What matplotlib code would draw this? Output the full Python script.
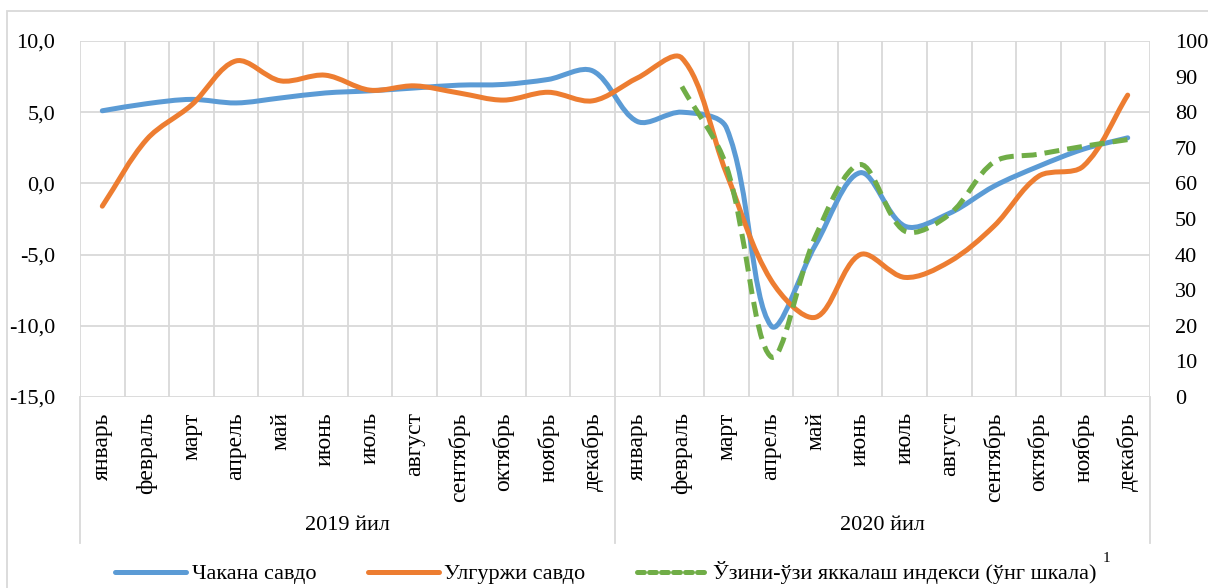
import matplotlib
matplotlib.use('Agg')
import matplotlib.pyplot as plt
import matplotlib.ticker as mtick
from matplotlib.path import Path
from matplotlib.patches import PathPatch, Rectangle
from matplotlib.lines import Line2D
import matplotlib.transforms as mtrans

plt.rcParams['font.family'] = ['Liberation Serif', 'Tinos', 'DejaVu Serif']

# Data
months = ['январь', 'февраль', 'март', 'апрель', 'май', 'июнь', 'июль',
          'август', 'сентябрь', 'октябрь', 'ноябрь', 'декабрь']
years = ['2019 йил', '2020 йил']
retail = [5.1, 5.6, 5.9, 5.65, 6.0, 6.35, 6.5, 6.7, 6.9, 6.95, 7.3, 7.9,
          4.35, 5.0, 3.9, -10.0, -4.3, 0.75, -3.0, -2.1, -0.2, 1.2, 2.4, 3.2]
wholesale = [-1.6, 3.1, 5.5, 8.6, 7.2, 7.6, 6.55, 6.85, 6.35, 5.85, 6.4, 5.8,
             7.4, 8.8, 0.7, -6.8, -9.4, -5.0, -6.6, -5.5, -3.0, 0.5, 1.2, 6.2]
# self-isolation index starts in February 2020 (right scale)
isolation = [87.2, 64.8, 11.3, 45.2, 65.3, 46.6, 51.3, 66.0, 68.2, 70.4, 72.3]
isolation_start = 13

labels = months * 2
n = len(labels)

BLUE = '#5B9BD5'
ORANGE = '#ED7D31'
GREEN = '#70AD47'
GRID = '#D9D9D9'
FS = 16
FS_MONTH = 17

W, H = 1208, 588
L, R, T, B = 80, 1150, 41, 397


def smooth_path(xs, ys, sx, sy):
    # smoothed line like Excel: cubic Bezier through the points,
    # tangents scaled by segment lengths measured in pixels
    m = len(xs)
    px = [x * sx for x in xs]
    py = [y * sy for y in ys]

    def dist(i, j):
        return ((px[j] - px[i]) ** 2 + (py[j] - py[i]) ** 2) ** 0.5

    tang = []
    for i in range(m):
        a, b = max(i - 1, 0), min(i + 1, m - 1)
        d = dist(a, i) + dist(i, b)
        tang.append(((px[b] - px[a]) / d, (py[b] - py[a]) / d))
    verts = [(xs[0], ys[0])]
    codes = [Path.MOVETO]
    for i in range(m - 1):
        d = dist(i, i + 1)
        c1 = ((px[i] + tang[i][0] * d / 3) / sx, (py[i] + tang[i][1] * d / 3) / sy)
        c2 = ((px[i + 1] - tang[i + 1][0] * d / 3) / sx,
              (py[i + 1] - tang[i + 1][1] * d / 3) / sy)
        verts += [c1, c2, (xs[i + 1], ys[i + 1])]
        codes += [Path.CURVE4] * 3
    return Path(verts, codes)


fig = plt.figure(figsize=(12.08, 5.88), dpi=100)
ax = fig.add_axes([L / W, 1 - B / H, (R - L) / W, (B - T) / H])
ax2 = ax.twinx()

ax.set_xlim(-0.5, n - 0.5)
ax.set_ylim(-15, 10)
ax2.set_ylim(0, 100)

ax.set_yticks(range(-15, 11, 5))
ax.yaxis.set_major_formatter(mtick.FuncFormatter(lambda v, p: f'{v:.1f}'.replace('.', ',')))
ax.set_xticks(range(n))
ax.set_xticklabels(labels)
ax.set_xticks([k - 0.5 for k in range(n + 1)], minor=True)
ax.grid(True, which='minor', axis='x', color=GRID, lw=1.3)
ax.grid(True, which='major', axis='y', color=GRID, lw=1.3)
ax.set_axisbelow(True)
ax.tick_params(axis='x', which='both', length=0)
ax.tick_params(axis='x', which='major', pad=11, labelsize=FS_MONTH, labelrotation=90)
ax.tick_params(axis='y', length=0, pad=18, labelsize=FS)
ax2.set_yticks(range(0, 101, 10))
ax2.tick_params(axis='y', length=0, pad=18, labelsize=FS)
for lbl in ax.get_xticklabels():
    lbl.set_verticalalignment('top')
for a in (ax, ax2):
    for s in a.spines.values():
        s.set_visible(False)

sx = (R - L) / n
xs = list(range(n))
ax.add_patch(PathPatch(smooth_path(xs, retail, sx, (B - T) / 25), fill=False,
                       ec=BLUE, lw=3.6, capstyle='round', joinstyle='round', zorder=3))
ax.add_patch(PathPatch(smooth_path(xs, wholesale, sx, (B - T) / 25), fill=False,
                       ec=ORANGE, lw=3.6, capstyle='round', joinstyle='round', zorder=4))
xi = list(range(isolation_start, isolation_start + len(isolation)))
ax2.add_patch(PathPatch(smooth_path(xi, isolation, sx, (B - T) / 100), fill=False,
                        ec=GREEN, lw=3.6, ls=(0, (3.0, 1.6)), capstyle='butt', zorder=5))

# year group labels and separators below the plot
trans = mtrans.blended_transform_factory(ax.transData, ax.transAxes)
sep_bottom = -(543 - B) / (B - T)
for xb in (-0.5, 11.5, n - 0.5):
    ax.add_line(Line2D([xb, xb], [0, sep_bottom], transform=trans, color=GRID,
                       lw=1.3, clip_on=False))
for k, yr in enumerate(years):
    ax.text(5.5 + 12 * k, -(525 - B) / (B - T), yr, transform=trans,
            ha='center', va='center', fontsize=FS)

# outer chart border
fig.add_artist(Rectangle((7 / W, -0.1), 1.2, 1 - 11 / H + 0.1, transform=fig.transFigure,
                         fill=False, ec=GRID, lw=1.3))

handles = [Line2D([], [], color=BLUE, lw=3.6, solid_capstyle='round'),
           Line2D([], [], color=ORANGE, lw=3.6, solid_capstyle='round'),
           Line2D([], [], color=GREEN, lw=3.6, ls=(0, (1.4, 1.0)), dash_capstyle='round')]
names = ['Чакана савдо', 'Улгуржи савдо', 'Ўзини-ўзи яккалаш индекси (ўнг шкала)']
fig.legend(handles, names, loc='center', bbox_to_anchor=(606 / W, 1 - 573 / H),
           ncol=3, frameon=False, fontsize=FS, handlelength=3.2,
           handletextpad=0.25, columnspacing=2.3, borderaxespad=0, borderpad=0)
fig.text(1106 / W, 1 - 559 / H, '1', fontsize=11, ha='center', va='center')

fig.savefig('out.png', dpi=100)
